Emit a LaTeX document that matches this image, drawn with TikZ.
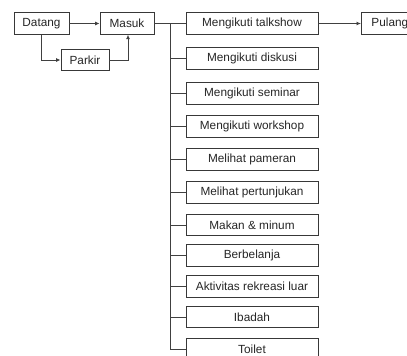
\documentclass[tikz,border=0pt]{standalone}
\usepackage{fontspec}
\setmainfont{Liberation Sans}
\usetikzlibrary{arrows.meta}
\begin{document}
\begin{tikzpicture}[x=1pt,y=-1pt,
  box/.style={draw=black!78, line width=0.9pt, fill=white, inner sep=0pt, minimum height=21.5pt, font=\fontsize{11.8pt}{13pt}\selectfont, text=black!85},
  actbox/.style={box, minimum width=132pt},
  conn/.style={draw=black!75, line width=0.9pt},
  arr/.style={conn, -{Latex[length=4.5pt,width=4pt]}}]
\useasboundingbox (0,0) rectangle (407,356);
\clip (0,0) rectangle (407,356);
\fill[white] (0,0) rectangle (407,356);
% left part
\node[box, minimum width=55pt] (datang) at (41.5,23.5) {Datang};
\node[box, minimum width=54pt] (masuk) at (127,23.5) {Masuk};
\node[box, minimum width=48pt] (parkir) at (85,60) {Parkir};
\draw[arr] (datang) -- (masuk);
\draw[arr] (datang.south) |- (parkir.west);
\draw[arr] (parkir.east) -| ([xshift=1pt]masuk.south);
% activities
\node[actbox] (a1) at (252,23.5) {Mengikuti talkshow};
\node[actbox] (a2) at (252,58.3) {Mengikuti diskusi};
\node[actbox] (a3) at (252,93.3) {Mengikuti seminar};
\node[actbox] (a4) at (252,126.5) {Mengikuti workshop};
\node[actbox] (a5) at (252,159.5) {Melihat pameran};
\node[actbox] (a6) at (252,192.5) {Melihat pertunjukan};
\node[actbox] (a7) at (252,225) {Makan \& minum};
\node[actbox] (a8) at (252,255.5) {Berbelanja};
\node[actbox] (a9) at (252,286.5) {Aktivitas rekreasi luar};
\node[actbox] (a10) at (252,317) {Ibadah};
\node[actbox] (a11) at (252,349) {Toilet};
\node[box, minimum width=60pt, anchor=west, text width=52pt, align=left] (pulang) at (361,23.5) {\hspace*{6pt}Pulang};
\coordinate (top) at (170,23.5);
\coordinate (bot) at (170,349);
\draw[conn] (masuk) -- (a1);
\draw[conn] (top) -- (bot);
\foreach \i in {2,...,11} { \draw[conn] (a\i.west -| top) -- (a\i.west); }
\draw[arr] (a1) -- (pulang);
\end{tikzpicture}
\end{document}
